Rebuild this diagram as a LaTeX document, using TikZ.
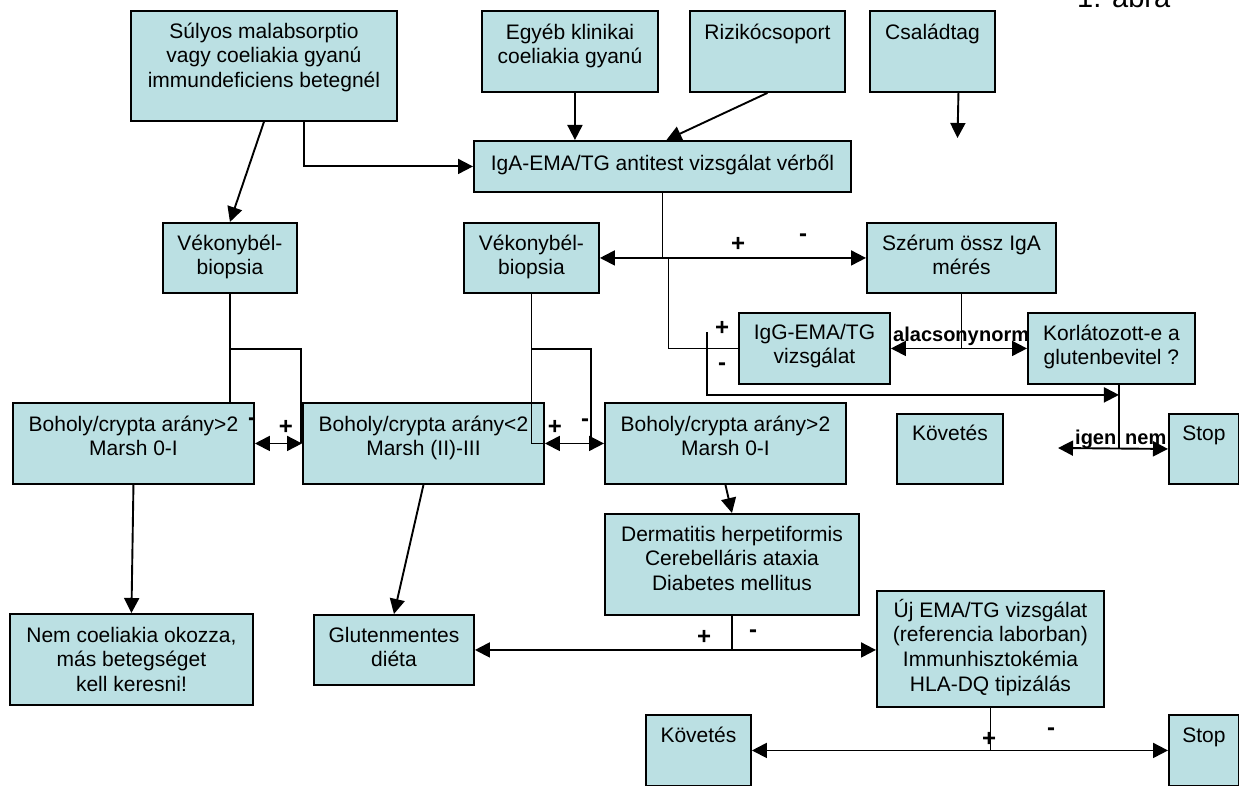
\documentclass[tikz,border=0pt]{standalone}
\usepackage{fontspec}
\setmainfont{Liberation Sans}
\usetikzlibrary{arrows.meta}
\definecolor{boxfill}{RGB}{187,224,227}
\begin{document}
\begin{tikzpicture}[x=1pt,y=-1pt,
  box/.style={draw=black, fill=boxfill, line width=1.9pt, rectangle, inner sep=0pt, anchor=north west},
  txt/.style={anchor=north, inner sep=0pt, align=center, font=\fontsize{21}{24.7}\selectfont},
  lbl/.style={inner sep=0pt, font=\fontsize{24}{24}\selectfont\bfseries},
  lbltwo/.style={inner sep=0pt, anchor=base west, font=\fontsize{20}{22}\selectfont\bfseries},
  conn/.style={line width=1.9pt},
  arr/.style={conn, -{Triangle[length=15pt,width=15pt]}},
  darr/.style={conn, {Triangle[length=15pt,width=15pt]}-{Triangle[length=15pt,width=15pt]}},
]
\useasboundingbox (0,0) rectangle (1239,786);

% boxes
\node[box, minimum width=266pt, minimum height=110pt] (sulyos) at (130,10) {};
\node[box, minimum width=176pt, minimum height=81pt] (egyeb) at (481,10) {};
\node[box, minimum width=155pt, minimum height=81pt] (riziko) at (689,10) {};
\node[box, minimum width=125pt, minimum height=81pt] (csalad) at (869,10) {};
\node[box, minimum width=377pt, minimum height=51pt] (iga) at (473,140) {};
\node[box, minimum width=134pt, minimum height=70pt] (vek1) at (162,222) {};
\node[box, minimum width=135pt, minimum height=70pt] (vek2) at (463,222) {};
\node[box, minimum width=189pt, minimum height=70pt] (szerum) at (866,222) {};
\node[box, minimum width=151pt, minimum height=71pt] (igg) at (738,312) {};
\node[box, minimum width=167pt, minimum height=71pt] (korl) at (1027,312) {};
\node[box, minimum width=241pt, minimum height=81pt] (boh1) at (12,402) {};
\node[box, minimum width=241pt, minimum height=81pt] (boh2) at (302,402) {};
\node[box, minimum width=241pt, minimum height=81pt] (boh3) at (604,402) {};
\node[box, minimum width=106pt, minimum height=70pt] (kov1) at (896,413) {};
\node[box, minimum width=70pt, minimum height=70pt] (stop1) at (1168,413) {};
\node[box, minimum width=254pt, minimum height=101pt] (derm) at (604,513) {};
\node[box, minimum width=227pt, minimum height=116pt] (uj) at (876,590) {};
\node[box, minimum width=160pt, minimum height=70pt] (gluten) at (313,614) {};
\node[box, minimum width=243pt, minimum height=91pt] (nem) at (9,613) {};
\node[box, minimum width=105pt, minimum height=71pt] (kov2) at (645,714) {};
\node[box, minimum width=70pt, minimum height=71pt] (stop2) at (1168,714) {};

% texts
\def\st{\rule{0pt}{20pt}}
\node[txt] (sulyosT) at ([yshift=-8pt]sulyos.north) {\st Súlyos malabsorptio\\vagy coeliakia gyanú\\immundeficiens betegnél};
\node[txt] (egyebT) at ([yshift=-9pt]egyeb.north) {\st Egyéb klinikai\\coeliakia gyanú};
\node[txt] (rizikoT) at ([yshift=-9pt]riziko.north) {\st Rizikócsoport};
\node[txt] (csaladT) at ([yshift=-9pt]csalad.north) {\st Családtag};
\node[txt] (igaT) at ([yshift=-10pt]iga.north) {\st IgA-EMA/TG antitest vizsgálat vérből};
\node[txt] (vek1T) at ([yshift=-8pt]vek1.north) {\st Vékonybél-\\biopsia};
\node[txt] (vek2T) at ([yshift=-8pt]vek2.north) {\st Vékonybél-\\biopsia};
\node[txt] (szerumT) at ([yshift=-8pt]szerum.north) {\st Szérum össz IgA\\mérés};
\node[txt] (iggT) at ([yshift=-7pt]igg.north) {\st IgG-EMA/TG\\vizsgálat};
\node[txt] (korlT) at ([yshift=-8pt]korl.north) {\st Korlátozott-e a\\glutenbevitel ?};
\node[txt] (boh1T) at ([yshift=-9pt]boh1.north) {\st Boholy/crypta arány>2\\Marsh 0-I};
\node[txt] (boh2T) at ([yshift=-9pt]boh2.north) {\st Boholy/crypta arány<2\\Marsh (II)-III};
\node[txt] (boh3T) at ([yshift=-9pt]boh3.north) {\st Boholy/crypta arány>2\\Marsh 0-I};
\node[txt] (kov1T) at ([yshift=-7pt]kov1.north) {\st Követés};
\node[txt] (stop1T) at ([yshift=-7pt]stop1.north) {\st Stop};
\node[txt] (dermT) at ([yshift=-8pt]derm.north) {\st Dermatitis herpetiformis\\Cerebelláris ataxia\\Diabetes mellitus};
\node[txt] (ujT) at ([yshift=-7pt]uj.north) {\st Új EMA/TG vizsgálat\\(referencia laborban)\\Immunhisztokémia\\HLA-DQ tipizálás};
\node[txt] (glutenT) at ([yshift=-8pt]gluten.north) {\st Glutenmentes\\diéta};
\node[txt] (nemT) at ([yshift=-9pt]nem.north) {\st Nem coeliakia okozza,\\más betegséget\\kell keresni!};
\node[txt] (kov2T) at ([yshift=-8pt]kov2.north) {\st Követés};
\node[txt] (stop2T) at ([yshift=-8pt]stop2.north) {\st Stop};

\node[anchor=base west, inner sep=0pt, font=\fontsize{29}{30}\selectfont] (title) at (1077,8) {1. ábra};

% connectors
\draw[arr] (sulyos.south) -- (vek1.north);
\draw[arr] ([xshift=40pt]sulyos.south) |- (iga.west);
\draw[arr] ([xshift=5pt]egyeb.south) -- ([xshift=5pt]egyeb.south |- iga.north);
\draw[arr] (riziko.south) -- ([xshift=4pt]iga.north);
\coordinate (csEnd) at (957.5,138);
\draw[arr] ([xshift=26pt]csalad.south) -- (csEnd);

\draw[conn] (iga.south) -- (iga.south |- vek2.east);
\draw[darr] (vek2.east) -- (szerum.west);
\coordinate (j1) at ([xshift=6pt]iga.south |- vek2.east);
\draw[conn] (j1) |- (igg.west);
\coordinate (m1) at (707,332);
\coordinate (m2) at ([xshift=7.5pt,yshift=-10pt]korl.south);
\draw[arr] (m1) |- (m2);

\draw[conn] (szerum.south) -- (szerum.south |- igg.east);
\draw[darr] (igg.east) -- (korl.west);
\draw[conn] ([xshift=7.5pt]korl.south) -- ([xshift=7.5pt]korl.south |- stop1.west);
\coordinate (igenEnd) at (1058,448);
\draw[darr] (igenEnd) -- (stop1.west);

\draw[conn] (vek1.south) -- (vek1.south |- boh1.north);
\coordinate (v1j) at ([yshift=-55pt]vek1.south);
\draw[conn] (v1j) -| ([xshift=-1pt]boh2.west);
\draw[darr] (boh1.east) -- (boh2.west);

\draw[conn] (vek2.south) |- (boh2.east);
\coordinate (v2j) at ([yshift=-55pt]vek2.south);
\draw[conn] (v2j) -| ([xshift=-13pt]boh3.west);
\draw[darr] (boh2.east) -- (boh3.west);

\draw[arr] (boh1.south) -- (nem.north);
\draw[arr] (boh2.south) -- (gluten.north);
\draw[arr] (boh3.south) -- (derm.north);

\draw[conn] (derm.south) -- (derm.south |- gluten.east);
\draw[darr] (gluten.east) -- (gluten.east -| uj.west);
\draw[conn] (uj.south) -- (uj.south |- kov2.east);
\draw[darr] (kov2.east) -- (stop2.west);

% labels
\node[lbl] (l1) at (738,244) {+};
\node[lbl] (l2) at (803,238) {-};
\node[lbl] (l3) at (722,328) {+};
\node[lbl] (l4) at (722,367) {-};
\node[lbl] (l5) at (252,422) {-};
\node[lbl] (l6) at (286,427) {+};
\node[lbl] (l7) at (555,427) {+};
\node[lbl] (l8) at (585,423) {-};
\node[lbl] (l9) at (704,637) {+};
\node[lbl] (l10) at (753,634) {-};
\node[lbl] (l11) at (989,739) {+};
\node[lbl] (l12) at (1051,732) {-};
\node[lbltwo] (alac) at (893,341) {alacsony};
\node[lbltwo] (norm) at (979,341) {norm};
\node[lbltwo] (igen) at (1075,444) {igen};
\node[lbltwo] (nemL) at (1125,444) {nem};
\end{tikzpicture}
\end{document}
